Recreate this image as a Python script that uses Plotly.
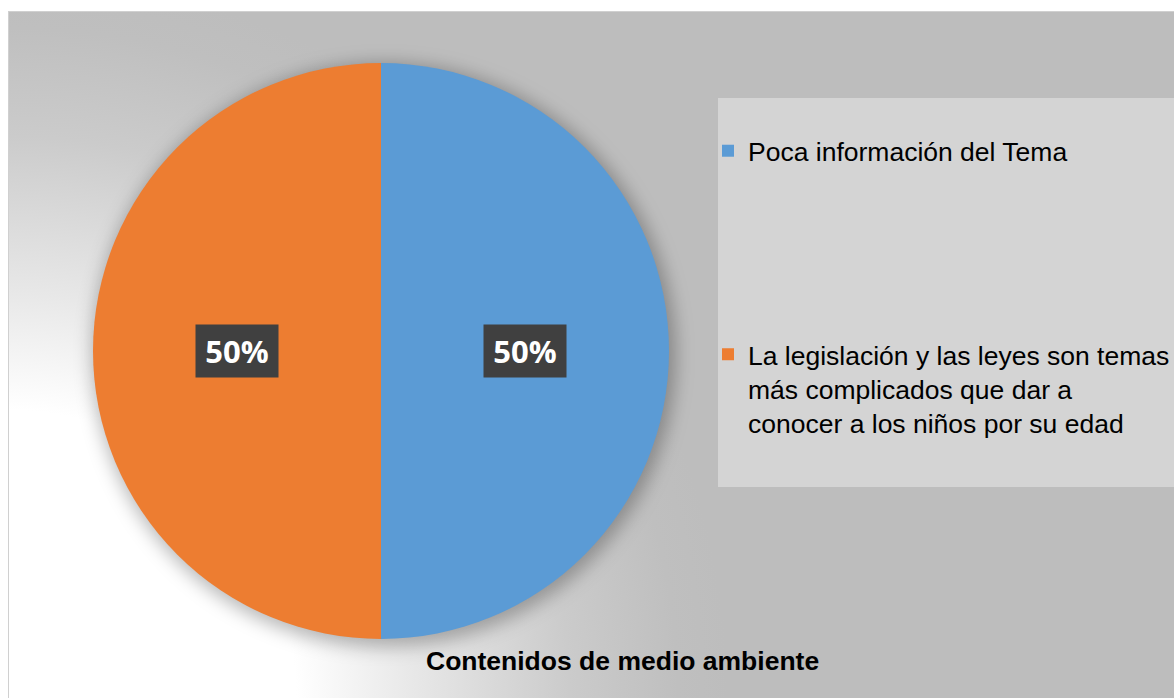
import base64, math
import plotly.graph_objects as go

# ---- data ----
categories = [
    "Poca información del Tema",
    "La legislación y las leyes son temas<br>más complicados que dar a<br>conocer a los niños por su edad",
]
values = [50, 50]
colors = ["#5B9BD5", "#ED7D31"]
chart_title = "Contenidos de medio ambiente"

W, H = 1174, 698
# pie placement (pixels)
CX, CY, R = 381, 351, 288

dom_x = [(CX - R) / W, (CX + R) / W]
dom_y = [(H - (CY + R)) / H, (H - (CY - R)) / H]

# ---- background (radial gradient panel) ----
svg = f'''<svg xmlns="http://www.w3.org/2000/svg" width="{W}" height="{H}" viewBox="0 0 {W} {H}">
<defs>
<radialGradient id="g" gradientUnits="userSpaceOnUse" cx="8" cy="{H}" r="720">
<stop offset="0" stop-color="#ffffff"/>
<stop offset="0.40" stop-color="#ffffff"/>
<stop offset="0.56" stop-color="#e8e8e8"/>
<stop offset="0.78" stop-color="#cbcbcb"/>
<stop offset="0.93" stop-color="#bfbfbf"/>
<stop offset="1" stop-color="#bdbdbd"/>
</radialGradient>
<filter id="b" x="-20%" y="-20%" width="140%" height="140%"><feGaussianBlur stdDeviation="9"/></filter>
<filter id="s" x="-30%" y="-30%" width="160%" height="160%"><feGaussianBlur stdDeviation="3"/></filter>
</defs>
<rect x="0" y="0" width="{W}" height="{H}" fill="#ffffff"/>
<rect x="8.5" y="11.5" width="{W+10}" height="{H+10}" fill="url(#g)" stroke="#d0d0d0" stroke-width="1"/>
<circle cx="{CX+3}" cy="{CY+4}" r="{R+4}" fill="#000" fill-opacity="0.28" filter="url(#b)"/>
</svg>'''
src = "data:image/svg+xml;base64," + base64.b64encode(svg.encode()).decode()

fig = go.Figure()
fig.add_trace(go.Pie(
    labels=categories, values=values, sort=False, direction="clockwise",
    marker=dict(colors=colors, line=dict(width=0)),
    textinfo="none", hoverinfo="label+percent", showlegend=False,
    domain=dict(x=dom_x, y=dom_y),
))

# legend entries (one per category)
for i, (cat, col) in enumerate(zip(categories, colors)):
    fig.add_trace(go.Scatter(
        x=[None], y=[None], mode="markers", name=cat,
        marker=dict(symbol="square", size=12, color=col),
        legend="legend" if i == 0 else "legend2", showlegend=True,
    ))

# percentage labels
total = sum(values)
cum = 0
annotations = []
for v in values:
    mid = (cum + v / 2) / total
    cum += v
    a = mid * 2 * math.pi
    px = CX + 0.5 * R * math.sin(a)
    py = CY - 0.5 * R * math.cos(a)
    annotations.append(dict(
        x=px / W, y=1 - py / H, xref="paper", yref="paper",
        xanchor="center", yanchor="middle",
        text=f"<b>{round(100 * v / total)}%</b>", showarrow=False,
        font=dict(family="Open Sans", size=31, color="white"),
        bgcolor="#404040", width=80, height=50,
    ))

annotations.append(dict(
    x=622 / W, y=1 - 661 / H, xref="paper", yref="paper",
    xanchor="center", yanchor="middle",
    text=f"<b>{chart_title}</b>", showarrow=False,
    font=dict(family="Liberation Sans", size=26.5, color="black"),
))

legend_font = dict(family="Liberation Sans", size=26.5, color="black")
fig.update_layout(
    width=W, height=H,
    margin=dict(l=0, r=0, t=0, b=0, autoexpand=False),
    paper_bgcolor="white", plot_bgcolor="rgba(0,0,0,0)",
    xaxis=dict(visible=False), yaxis=dict(visible=False),
    images=[dict(source=src, xref="paper", yref="paper", x=0, y=1,
                 sizex=1, sizey=1, sizing="stretch", layer="below",
                 xanchor="left", yanchor="top")],
    shapes=[dict(type="rect", xref="paper", yref="paper",
                 x0=718 / W, x1=1, y0=1 - 487 / H, y1=1 - 98 / H,
                 fillcolor="#d4d4d4", line=dict(width=0), layer="below")],
    legend=dict(x=708 / W, y=1 - 151 / H, xanchor="left", yanchor="middle",
                bgcolor="rgba(0,0,0,0)", font=legend_font, valign="top"),
    legend2=dict(x=708 / W, y=1 - 389 / H, xanchor="left", yanchor="middle",
                 bgcolor="rgba(0,0,0,0)", font=legend_font, valign="top"),
    annotations=annotations,
    showlegend=True,
)
fig.write_html(
    "out.html",
    config={"displayModeBar": False},
    post_script="document.body.style.margin='0';document.body.style.overflow='hidden';",
)
